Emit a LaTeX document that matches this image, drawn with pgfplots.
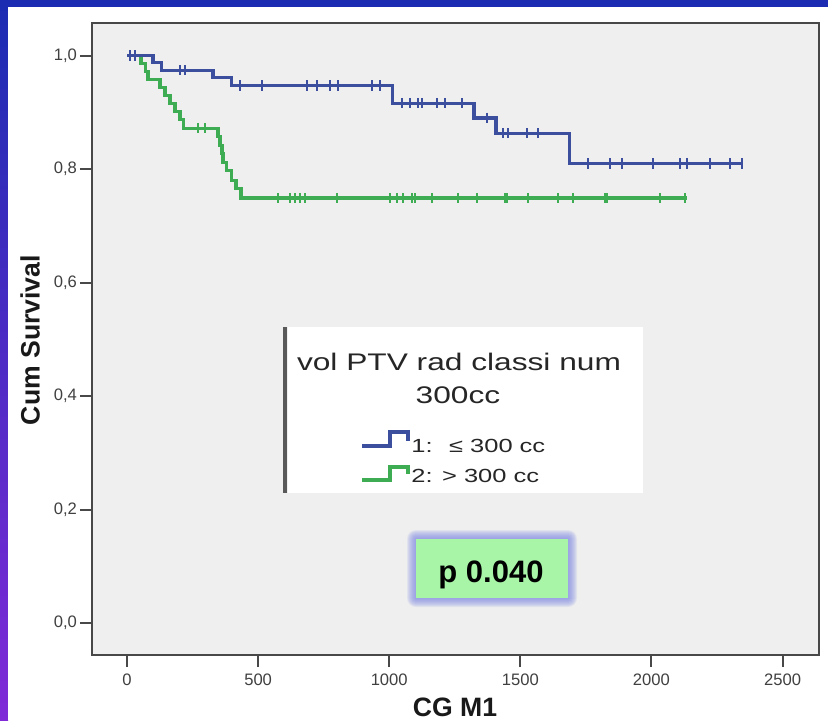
\documentclass[border=0pt]{standalone}
\usepackage{pgfplots}
\pgfplotsset{compat=1.18}
\usepackage{fontspec}
\setmainfont{Liberation Sans}
\usepackage{graphicx}
\definecolor{kmblue}{RGB}{60,78,158}
\definecolor{kmgreen}{RGB}{62,172,82}
\definecolor{bgblue}{RGB}{28,44,178}
\definecolor{bgpurple}{RGB}{128,42,215}
\definecolor{plotbg}{RGB}{239,239,239}
\definecolor{axgray}{RGB}{72,72,72}
\definecolor{pgreen}{RGB}{168,245,168}
\definecolor{glow}{RGB}{130,140,228}
\begin{document}
\begin{tikzpicture}
\useasboundingbox (0,0) rectangle (414pt,360pt);
\clip (0,0) rectangle (414pt,360pt);
\begin{scope}[x=0.5pt,y=0.5pt]
\fill[bgblue] (0,0) rectangle (828,720);
\shade[top color=bgblue, bottom color=bgpurple] (0,0) rectangle (8,713);
\fill[white] (8,0) rectangle (828,713);
\end{scope}
\begin{axis}[at={(46pt,32.5pt)}, anchor=south west, scale only axis,
  width=363.5pt, height=316pt,
  xmin=-133.5, xmax=2639, ymin=-0.0564, ymax=1.0573,
  axis background/.style={fill=plotbg},
  axis line style={axgray, line width=1pt},
  tick align=outside, major tick length=6pt,
  tick style={axgray, line width=1pt},
  xtick pos=bottom, ytick pos=left,
  xtick={0,500,1000,1500,2000,2500},
  xticklabels={0,500,1000,1500,2000,2500},
  ytick={0,0.2,0.4,0.6,0.8,1.0},
  yticklabels={{0,0},{0,2},{0,4},{0,6},{0,8},{1,0}},
  ticklabel style={font=\fontsize{8.3}{9}\selectfont, text=black!75},
  yticklabel style={xshift=2pt},
]
\addplot[const plot, kmgreen, line width=1.6pt] coordinates {
(0,1.0) (53,0.986) (72,0.972) (80,0.958) (126,0.944) (145,0.930) (164,0.915)
(183,0.901) (202,0.887) (214,0.872) (347,0.857) (355,0.842) (362,0.827)
(366,0.812) (378,0.797) (397,0.780) (416,0.765) (435,0.749) (2136,0.749)};
\addplot[only marks, mark=|, kmgreen, mark size=2.6pt, mark options={line width=0.9pt}] coordinates {
(271,0.872) (297,0.872)
(576,0.749) (622,0.749) (641,0.749) (660,0.749) (679,0.749) (801,0.749)
(1003,0.749) (1030,0.749) (1053,0.749) (1087,0.749) (1098,0.749) (1163,0.749)
(1262,0.749) (1335,0.749) (1442,0.749) (1449,0.749) (1529,0.749) (1644,0.749)
(1701,0.749) (1823,0.749) (1831,0.749) (2033,0.749) (2128,0.749)};
\addplot[const plot, kmblue, line width=1.6pt] coordinates {
(0,1.0) (99,0.987) (133,0.974) (328,0.961) (397,0.947) (1011,0.916)
(1323,0.890) (1407,0.863) (1686,0.810) (2346,0.810)};
\addplot[only marks, mark=|, kmblue, mark size=2.6pt, mark options={line width=0.9pt}] coordinates {
(11,1.0) (30,1.0) (202,0.974) (221,0.974)
(431,0.947) (515,0.947) (686,0.947) (724,0.947) (774,0.947) (805,0.947) (934,0.947) (965,0.947)
(1049,0.916) (1079,0.916) (1110,0.916) (1125,0.916) (1182,0.916) (1213,0.916) (1278,0.916)
(1373,0.890)
(1434,0.863) (1453,0.863) (1526,0.863) (1567,0.863)
(1758,0.810) (1842,0.810) (1888,0.810) (2006,0.810) (2109,0.810) (2136,0.810)
(2224,0.810) (2300,0.810) (2346,0.810)};
\end{axis}
\begin{scope}[x=0.5pt,y=0.5pt]
% legend
\fill[white] (288,227) rectangle (643,393);
\fill[gray!70!black] (283,227) rectangle (287,393);
\node[anchor=base, inner sep=0, text=black!85] at (459,350)
  {\scalebox{1.32}[1]{\fontsize{12}{13}\selectfont vol PTV rad classi num}};
\node[anchor=base, inner sep=0, text=black!85] at (458,317)
  {\scalebox{1.32}[1]{\fontsize{12}{13}\selectfont 300cc}};
\draw[kmblue, line width=1.8pt] (362,274) -- (390,274) -- (390,288) -- (408,288) -- (408,279);
\draw[kmgreen, line width=1.8pt] (362,240) -- (390,240) -- (390,253) -- (408,253) -- (408,246);
\node[anchor=base west, inner sep=0, text=black!85] at (411,268)
  {\scalebox{1.34}[1]{\fontsize{9.5}{10}\selectfont 1:~ ≤ 300 cc}};
\node[anchor=base west, inner sep=0, text=black!85] at (411,238)
  {\scalebox{1.34}[1]{\fontsize{9.5}{10}\selectfont 2: > 300 cc}};
% p box with glow
\foreach \g in {9,8,7,6,5,4,3,2,1}{
  \fill[glow, opacity=0.13, rounded corners=\g*0.5pt] (416-\g,122-\g) rectangle (568+\g,181+\g);
}
\fill[pgreen] (416,122) rectangle (568,181);
\node[anchor=base, inner sep=0] at (491,138) {\bfseries\fontsize{15.5}{16}\selectfont p 0.040};
% axis titles
\node[rotate=90, inner sep=0, text=black!90] at (30,380) {\bfseries\fontsize{13.3}{14}\selectfont Cum Survival};
\node[anchor=base, inner sep=0, text=black!90] at (455,4) {\bfseries\fontsize{13.3}{14}\selectfont CG M1};
\end{scope}
\end{tikzpicture}
\end{document}
